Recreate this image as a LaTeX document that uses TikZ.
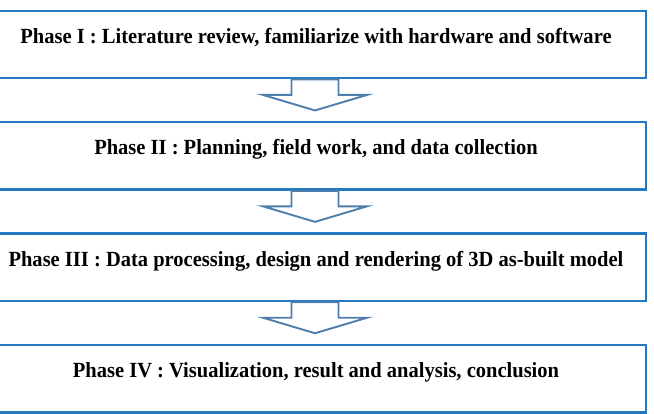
\documentclass[tikz,border=0pt]{standalone}
\usepackage{fontspec}
\setmainfont{Liberation Serif}[FakeStretch=0.95]
\usepackage{tikz}
\usetikzlibrary{positioning,calc}
\definecolor{rim}{HTML}{2479C2}
\definecolor{steel}{HTML}{4F7DAE}

\begin{document}
\begin{tikzpicture}[x=1pt,y=-1pt,node distance=41.5pt,
 phase/.style={draw=rim,line width=2.4pt,fill=white,minimum width=660pt,
 inner xsep=0pt,inner ysep=0pt,text height=32.5pt,text depth=35pt,
 font=\fontsize{21.6}{25}\selectfont\bfseries},
 blockarr/.style={draw=steel,line width=1.9pt,fill=white,line join=miter}]
\useasboundingbox (0,0) rectangle (654,414);
\node[phase] (p1) at (316,44.5) {Phase I : Literature review, familiarize with hardware and software};
\node[phase,below=of p1] (p2) {Phase II : Planning, field work, and data collection};
\node[phase,below=of p2] (p3) {Phase III : Data processing, design and rendering of 3D as-built model};
\node[phase,below=of p3] (p4) {Phase IV : Visualization, result and analysis, conclusion};
\foreach \a in {p1,p2,p3}
 \draw[blockarr] ([xshift=-24.5pt]\a.south) -- ++(0,15.5) -- ++(-28.5,0)
 -- ++(52,15.5) -- ++(52,-15.5) -- ++(-28.5,0) -- ++(0,-15.5) -- cycle;
\end{tikzpicture}
\end{document}
